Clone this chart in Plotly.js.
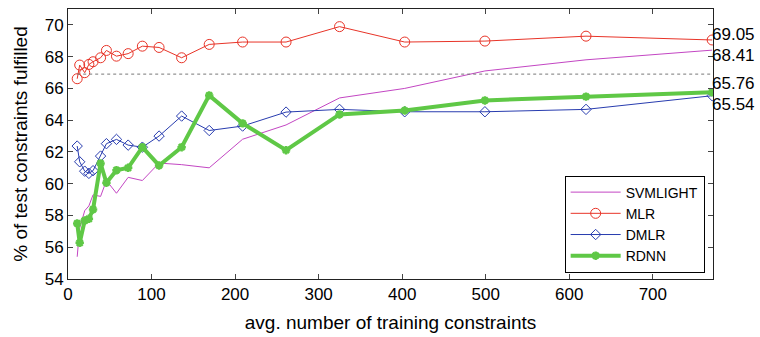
<!DOCTYPE html>
<html>
<head>
<meta charset="utf-8">
<script src="https://cdn.plot.ly/plotly-3.0.1.min.js"></script>
<style>html,body{margin:0;padding:0;background:#fff;}#chart{width:760px;height:337px;}</style>
</head>
<body>
<div id="chart"></div>
<script>
const trainSize = [11, 14, 20, 25, 30, 39, 46, 58, 72, 89, 109, 136, 169, 209, 261, 325, 403, 499, 620, 771];
const svmlight = [55.4, 57.2, 58.3, 58.6, 59.3, 59.2, 60.2, 59.4, 60.4, 60.2, 61.3, 61.2, 61.0, 62.8, 63.7, 65.4, 66.0, 67.1, 67.8, 68.41];
const mlr = [66.61, 67.47, 66.99, 67.51, 67.68, 67.93, 68.39, 68.03, 68.19, 68.66, 68.58, 67.93, 68.77, 68.92, 68.92, 69.89, 68.92, 68.98, 69.29, 69.05];
const dmlr = [62.37, 61.38, 60.79, 60.65, 60.82, 61.74, 62.52, 62.79, 62.43, 62.30, 63.0, 64.26, 63.35, 63.63, 64.51, 64.68, 64.53, 64.53, 64.68, 65.54];
const rdnn = [57.50, 56.28, 57.68, 57.79, 58.38, 61.28, 60.06, 60.85, 61.0, 62.30, 61.15, 62.30, 65.56, 63.80, 62.11, 64.36, 64.61, 65.24, 65.48, 65.76];
const refLevel = 66.9;
const endLabels = ['69.05', '68.41', '65.76', '65.54'];
const endValues = [69.05, 68.41, 65.76, 65.54];
const labelShifts = [5, -5, 9, -9];

const traces = [
  {x: trainSize, y: svmlight, name: 'SVMLIGHT', mode: 'lines', line: {color: 'rgb(195,70,195)', width: 1}},
  {x: trainSize, y: mlr, name: 'MLR', mode: 'lines+markers', line: {color: 'rgb(232,52,40)', width: 1},
   marker: {symbol: 'circle-open', size: 10, color: 'rgb(232,52,40)', line: {width: 1, color: 'rgb(232,52,40)'}}},
  {x: trainSize, y: dmlr, name: 'DMLR', mode: 'lines+markers', line: {color: 'rgb(40,60,175)', width: 1},
   marker: {symbol: 'diamond-open', size: 8, color: 'rgb(40,60,175)', line: {width: 1, color: 'rgb(40,60,175)'}}},
  {x: trainSize, y: rdnn, name: 'RDNN', mode: 'lines+markers', line: {color: 'rgb(95,200,70)', width: 4},
   marker: {symbol: 'asterisk-open', size: 7, color: 'rgb(95,200,70)', line: {width: 2.5, color: 'rgb(95,200,70)'}}}
];

const annotations = endLabels.map((t, i) => ({
  x: 1, xref: 'paper', y: endValues[i], yref: 'y', text: t, showarrow: false,
  xanchor: 'left', yanchor: 'middle', xshift: -2, yshift: labelShifts[i], borderpad: 0,
  font: {family: 'Liberation Sans, Arial, sans-serif', size: 17, color: '#000'}
}));

const layout = {
  width: 760, height: 337,
  margin: {l: 68, r: 47, t: 9, b: 58},
  paper_bgcolor: '#fff', plot_bgcolor: '#fff',
  font: {family: 'Liberation Sans, Arial, sans-serif', size: 17, color: '#000'},
  showlegend: true,
  legend: {x: 0.77, y: 0.024, xanchor: 'left', yanchor: 'bottom', bgcolor: '#fff',
    bordercolor: '#000', borderwidth: 1, font: {size: 14}, tracegroupgap: 0, itemwidth: 50},
  xaxis: {range: [0, 772], tickvals: [0,100,200,300,400,500,600,700], ticks: 'inside', ticklen: 5,
    showline: true, linecolor: '#222', linewidth: 1, mirror: 'ticks', showgrid: false, zeroline: false,
    tickfont: {size: 17}, title: {text: 'avg. number of training constraints', font: {size: 19}, standoff: 12}},
  yaxis: {range: [54, 71], tickvals: [54,56,58,60,62,64,66,68,70], ticks: 'inside', ticklen: 5,
    showline: true, linecolor: '#222', linewidth: 1, mirror: 'ticks', showgrid: false, zeroline: false,
    tickfont: {size: 17}, title: {text: '% of test constraints fulfilled', font: {size: 19}, standoff: 12}},
  shapes: [{type: 'line', xref: 'x', yref: 'y', x0: trainSize[0], x1: 772, y0: refLevel, y1: refLevel,
    line: {color: 'rgb(120,120,120)', width: 1, dash: 'dot'}}],
  annotations: annotations
};

Plotly.newPlot('chart', traces, layout, {displayModeBar: false, staticPlot: true});
</script>
</body>
</html>
